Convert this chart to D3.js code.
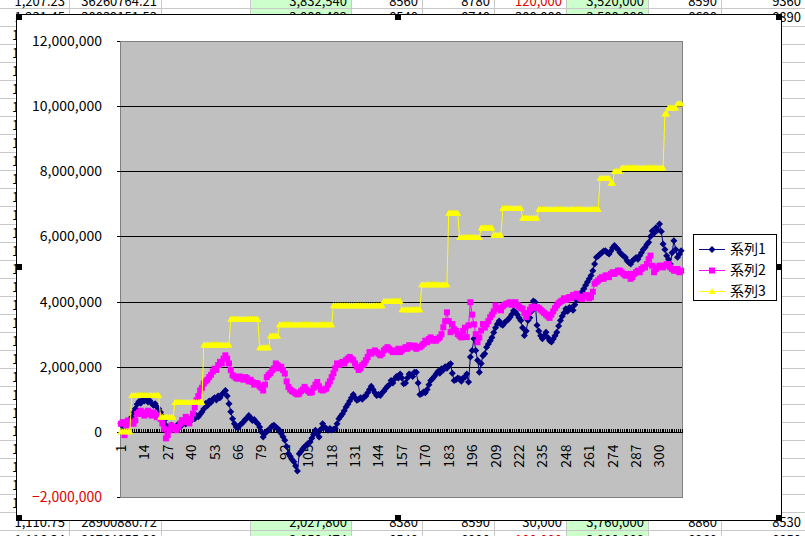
<!DOCTYPE html>
<html>
<head>
<meta charset="utf-8">
<script src="https://cdn.jsdelivr.net/npm/d3@7"></script>
<style>
  body { margin: 0; background: #fff; }
  svg { display: block; }
  text { font-family: "Noto Sans CJK JP", "DejaVu Sans", sans-serif; }
</style>
</head>
<body>
<script>
// values are in thousands (yen), one per category 1..312
var series1 = [
  250,180,220,300,260,380,450,600,710,850,930,880,990,
  950,1000,920,960,880,820,860,760,710,600,480,350,200,
  50,120,200,150,100,180,250,160,220,280,240,330,380,
  350,450,400,500,460,540,610,700,870,800,950,900,1000,
  1050,980,1100,1050,1150,1200,1270,1100,860,620,400,250,150,
  120,200,250,300,380,420,500,430,350,380,300,250,150,
  0,-160,-50,20,50,120,180,200,150,100,50,-50,-150,
  -260,-450,-670,-750,-850,-920,-1050,-1200,-670,-600,-520,-460,-400,
  -350,-310,-200,-80,50,-50,-160,80,250,150,100,50,100,
  60,80,100,250,400,480,550,650,760,850,950,1050,1150,
  1050,970,1000,1050,1000,1080,1100,1200,1300,1400,1300,1200,1120,
  1150,1120,1200,1250,1330,1400,1450,1580,1500,1620,1700,1650,1780,
  1650,1480,1500,1650,1780,1750,1700,1830,1830,1500,1150,1170,1220,
  1200,1300,1450,1580,1630,1700,1780,1850,1800,1940,1900,2000,1950,
  2050,2090,1800,1580,1600,1650,1630,1550,1650,1680,1780,1530,2300,
  2500,2860,2500,2200,1830,2100,2340,2400,2600,2700,2800,2900,3050,
  3200,3310,3400,3300,3270,3350,3400,3450,3520,3600,3720,3680,3600,
  3500,3420,3200,2960,3100,3420,3500,3700,4020,3980,3270,3100,2950,
  2860,2950,3060,2900,2800,2760,2850,2950,3060,3250,3420,3550,3650,
  3780,3700,3820,3800,3730,3900,4050,4140,4200,4300,4390,4500,4600,
  4700,4800,4950,5150,5360,5400,5460,5500,5550,5560,5500,5460,5550,
  5650,5720,5650,5600,5510,5450,5400,5360,5250,5200,5150,5250,5300,
  5350,5300,5410,5500,5600,5660,5750,5820,6000,6170,6100,6270,6200,
  6380,6150,5770,5600,5410,5300,5150,5500,5870,5600,5360,5450,5560
];

var series2 = [
  250,300,-100,200,350,280,300,250,350,550,600,650,550,
  500,600,650,550,500,600,550,450,500,400,260,100,-200,
  -100,50,200,150,100,50,150,250,360,300,460,400,260,
  400,560,750,970,1100,1270,1350,1480,1550,1600,1680,1750,1850,
  1940,1900,2050,2150,2100,2250,2350,2250,2100,1900,1740,1700,1650,
  1630,1700,1650,1600,1680,1650,1550,1600,1530,1450,1500,1480,1400,
  1350,1270,1450,1680,1750,1800,1890,1950,2100,2050,1950,2000,1900,
  1790,1550,1380,1300,1250,1220,1180,1150,1170,1250,1300,1380,1300,
  1250,1200,1220,1350,1450,1530,1400,1300,1270,1300,1330,1450,1550,
  1680,1800,1950,2100,2050,2100,2150,2100,2200,2250,2300,2250,2200,
  2100,2000,1900,1950,2050,2100,2200,2300,2450,2400,2450,2500,2450,
  2400,2350,2400,2500,2550,2600,2550,2500,2450,2450,2500,2550,2450,
  2500,2550,2600,2550,2660,2600,2600,2650,2550,2600,2600,2650,2700,
  2800,2750,2850,2900,2800,2850,2800,2860,2900,3000,3210,3400,3670,
  3400,3060,3310,3150,3100,3000,2950,2900,3100,3200,2910,3270,3980,
  3600,3300,3000,2750,2900,3110,3310,3200,3300,3400,3520,3600,3700,
  3880,3800,3780,3730,3850,3900,3930,3950,3980,3900,3950,3980,3900,
  3850,3800,3780,3650,3520,3650,3750,3830,3850,3800,3830,3800,3750,
  3700,3650,3600,3550,3500,3600,3700,3800,3880,3950,4000,4030,4100,
  4050,4100,4140,4100,4200,4150,4240,4150,4100,4080,4150,4200,4190,
  4100,4140,4300,4550,4600,4650,4700,4750,4700,4800,4800,4750,4850,
  4900,4850,4900,4950,4950,4900,4850,4800,4800,4850,4700,4750,4850,
  4900,4950,4900,5000,5050,5050,5150,5300,5410,5100,4900,5000,5050,
  5100,5100,5050,5100,5150,5150,5050,5000,4950,4950,5000,4900,4950
];

var series3 = [
  0,0,0,0,0,0,1120,1120,1120,1120,1120,1120,1120,
  1120,1120,1120,1120,1120,1120,1120,1120,1120,450,450,450,450,
  450,450,450,450,900,900,900,900,900,900,900,900,900,
  900,900,900,900,900,900,900,2670,2670,2670,2670,2670,2670,
  2670,2670,2670,2670,2670,2670,2670,2670,2670,3460,3460,3460,3460,
  3460,3460,3460,3460,3460,3460,3460,3460,3460,3460,3460,3460,2580,
  2580,2580,2580,2580,2580,2940,2940,2940,2940,2940,3290,3290,3290,
  3290,3290,3290,3290,3290,3290,3290,3290,3290,3290,3290,3290,3290,
  3290,3290,3290,3290,3290,3290,3290,3290,3290,3290,3290,3290,3290,
  3290,3870,3870,3870,3870,3870,3870,3870,3870,3870,3870,3870,3870,
  3870,3870,3870,3870,3870,3870,3870,3870,3870,3870,3870,3870,3870,
  3870,3870,3870,4010,4010,4010,4010,4010,4010,4010,4010,4010,4010,
  3750,3750,3750,3750,3750,3750,3750,3750,3750,3750,3750,4520,4520,
  4520,4520,4520,4520,4520,4520,4520,4520,4520,4520,4520,4520,4520,
  6710,6710,6710,6710,6710,6710,5970,5970,5970,5970,5970,5970,5970,
  5970,5970,5970,5970,5970,6260,6260,6260,6260,6260,6260,6260,6040,
  6040,6040,6040,6040,6860,6860,6860,6860,6860,6860,6860,6860,6860,
  6860,6860,6560,6560,6560,6560,6560,6560,6560,6560,6560,6830,6830,
  6830,6830,6830,6830,6830,6830,6830,6830,6830,6830,6830,6830,6830,
  6830,6830,6830,6830,6830,6830,6830,6830,6830,6830,6830,6830,6830,
  6830,6830,6830,6830,6830,6830,7790,7790,7790,7790,7790,7790,7630,
  7630,7990,7990,7990,7990,8100,8100,8100,8100,8100,8100,8100,8100,
  8100,8100,8100,8100,8100,8100,8100,8100,8100,8100,8100,8100,8100,
  8100,8100,8100,9760,9760,9940,9940,9940,9940,9940,10070,10070,10070
];

var seriesNames = ["系列1", "系列2", "系列3"];
var yTicks = [-2000000, 0, 2000000, 4000000, 6000000, 8000000, 10000000, 12000000];
var xTickLabels = [1, 14, 27, 40, 53, 66, 79, 92, 105, 118, 131, 144, 157, 170, 183, 196, 209, 222, 235, 248, 261, 274, 287, 300];

// spreadsheet cells showing around the chart (red = negative/loss column)
var topRow = ["1,207.23", "36260764.21", "", "3,832,540", "8560", "8780", "120,000", "3,520,000", "8590", "9360"];
var topRow2 = ["1,231.45", "30039151.53", "", "3,000,402", "8540", "8740", "300,000", "3,500,000", "8690", "8890"];
var bottomRow = ["1,110.75", "28900880.72", "", "2,027,800", "8380", "8590", "30,000", "3,760,000", "8860", "8530"];
var bottomRow2 = ["1,116.34", "28764855.30", "", "2,050,474", "8540", "8990", "-100,000", "3,900,000", "8960", "8850"];

var width = 805, height = 536;
var UNIT = 1000;

var svg = d3.select("body").append("svg")
    .attr("width", width)
    .attr("height", height);

// ---- sheet behind the chart ----
var colEdges = [0, 69, 161, 250, 351, 422, 494, 566, 648, 721, 805];
var sheet = svg.append("g");
[3, 7].forEach(function(c) {
  sheet.append("rect").attr("x", colEdges[c]).attr("y", 0)
    .attr("width", colEdges[c + 1] - colEdges[c]).attr("height", height)
    .attr("fill", "#ccffcc");
});
for (var ry = 8.5; ry < height; ry += 18) {
  sheet.append("line").attr("x1", 0).attr("x2", width).attr("y1", ry).attr("y2", ry)
    .attr("stroke", "#c8c8c8");
}
colEdges.slice(1, -1).forEach(function(cx) {
  sheet.append("line").attr("x1", cx + 0.5).attr("x2", cx + 0.5).attr("y1", 0).attr("y2", height)
    .attr("stroke", "#c8c8c8");
});
function sheetRow(vals, base, red) {
  vals.forEach(function(v, k) {
    if (!v) return;
    sheet.append("text")
      .attr("x", colEdges[k + 1] - 4).attr("y", base)
      .attr("text-anchor", "end")
      .attr("font-size", 13)
      .attr("fill", k == 6 && red ? "#e00000" : "#000")
      .text(v);
  });
}
sheetRow(topRow, 6, true);
sheetRow(topRow2, 22, false);
sheetRow(bottomRow, 527, false);
sheetRow(bottomRow2, 545, true);
for (var ry2 = 40; ry2 < 520; ry2 += 18) {
  sheet.append("text").attr("x", 12).attr("y", ry2).attr("font-size", 13).text("1");
}

// ---- chart area ----
var chart = svg.append("g");
chart.append("rect")
    .attr("x", 16.5).attr("y", 14.5)
    .attr("width", 765).attr("height", 506)
    .attr("fill", "#fff").attr("stroke", "#000");

var plot = {left: 120, right: 682, top: 41, bottom: 497};

var x = d3.scalePoint()
    .domain(d3.range(1, series1.length + 1))
    .range([plot.left, plot.right])
    .padding(0.5);
var step = x.step();

var y = d3.scaleLinear()
    .domain([-2000000, 12000000])
    .range([plot.bottom, plot.top]);

chart.append("rect")
    .attr("x", plot.left + 0.5).attr("y", plot.top + 0.5)
    .attr("width", plot.right - plot.left).attr("height", plot.bottom - plot.top)
    .attr("fill", "#c0c0c0").attr("stroke", "#808080");

// gridlines
chart.append("g").selectAll("line")
    .data(yTicks.filter(function(t) { return t > -2000000 && t < 12000000 && t != 0; }))
    .enter().append("line")
    .attr("x1", plot.left).attr("x2", plot.right)
    .attr("y1", function(d) { return Math.round(y(d)) + 0.5; })
    .attr("y2", function(d) { return Math.round(y(d)) + 0.5; })
    .attr("stroke", "#000");

// value axis labels + small ticks
var yAxis = chart.append("g");
yAxis.selectAll("line").data(yTicks).enter().append("line")
    .attr("x1", plot.left - 3).attr("x2", plot.left)
    .attr("y1", function(d) { return Math.round(y(d)) + 0.5; })
    .attr("y2", function(d) { return Math.round(y(d)) + 0.5; })
    .attr("stroke", "#000");
yAxis.selectAll("text").data(yTicks).enter().append("text")
    .attr("x", 102)
    .attr("y", function(d) { return y(d) + 5; })
    .attr("text-anchor", "end")
    .attr("font-size", 14)
    .attr("fill", function(d) { return d < 0 ? "#e00000" : "#000"; })
    .text(function(d) { return d3.format(",")(d); });

// category axis at zero
var zeroY = Math.round(y(0)) + 0.5;
var xAxis = chart.append("g");
xAxis.append("line")
    .attr("x1", plot.left).attr("x2", plot.right)
    .attr("y1", zeroY).attr("y2", zeroY)
    .attr("stroke", "#000");
xAxis.selectAll(".tk").data(d3.range(0, series1.length + 1)).enter().append("line")
    .attr("class", "tk")
    .attr("x1", function(k) { return plot.left + k * step; })
    .attr("x2", function(k) { return plot.left + k * step; })
    .attr("y1", zeroY - 4).attr("y2", zeroY)
    .attr("stroke", "#000")
    .attr("shape-rendering", "crispEdges");
xAxis.selectAll("text").data(xTickLabels).enter().append("text")
    .attr("transform", function(d) { return "translate(" + (x(d) + 5) + "," + (zeroY + 12) + ") rotate(-90)"; })
    .attr("text-anchor", "end")
    .attr("font-size", 14)
    .text(function(d) { return d; });

// ---- series ----
var colors = ["#000080", "#ff00ff", "#ffff00"];
var markerPaths = [
  "M0,-3.5L3.5,0L0,3.5L-3.5,0Z",
  "M-3,-3H3V3H-3Z",
  "M0,-3.5L3.5,2.5L-3.5,2.5Z"
];
var allSeries = [series1, series2, series3];

var line = d3.line()
    .x(function(d, i) { return x(i + 1); })
    .y(function(d) { return y(d * UNIT); });

allSeries.forEach(function(vals, s) {
  var g = chart.append("g");
  g.append("path")
    .attr("d", line(vals))
    .attr("fill", "none")
    .attr("stroke", colors[s])
    .attr("stroke-width", 1);
  g.selectAll("path.m").data(vals).enter().append("path")
    .attr("class", "m")
    .attr("d", markerPaths[s])
    .attr("transform", function(d, i) { return "translate(" + x(i + 1) + "," + y(d * UNIT) + ")"; })
    .attr("fill", colors[s]);
});

// ---- legend ----
var legend = chart.append("g");
legend.append("rect")
    .attr("x", 693.5).attr("y", 234.5)
    .attr("width", 83).attr("height", 66)
    .attr("fill", "#fff").attr("stroke", "#000");
seriesNames.forEach(function(name, s) {
  var ly = 249 + s * 21;
  legend.append("line")
    .attr("x1", 699).attr("x2", 725).attr("y1", ly + 0.5).attr("y2", ly + 0.5)
    .attr("stroke", colors[s]);
  legend.append("path")
    .attr("d", markerPaths[s])
    .attr("transform", "translate(712," + (ly + 0.5) + ")")
    .attr("fill", colors[s]);
  legend.append("text")
    .attr("x", 730).attr("y", ly + 5)
    .attr("font-size", 14)
    .text(name);
});

// selection handles
var handles = [[16, 14], [395, 14], [776, 14], [16, 264], [776, 264], [16, 515], [395, 515], [776, 515]];
chart.selectAll(".h").data(handles).enter().append("rect")
    .attr("class", "h")
    .attr("x", function(d) { return d[0]; }).attr("y", function(d) { return d[1]; })
    .attr("width", 6).attr("height", 6)
    .attr("fill", "#000");
</script>
</body>
</html>
